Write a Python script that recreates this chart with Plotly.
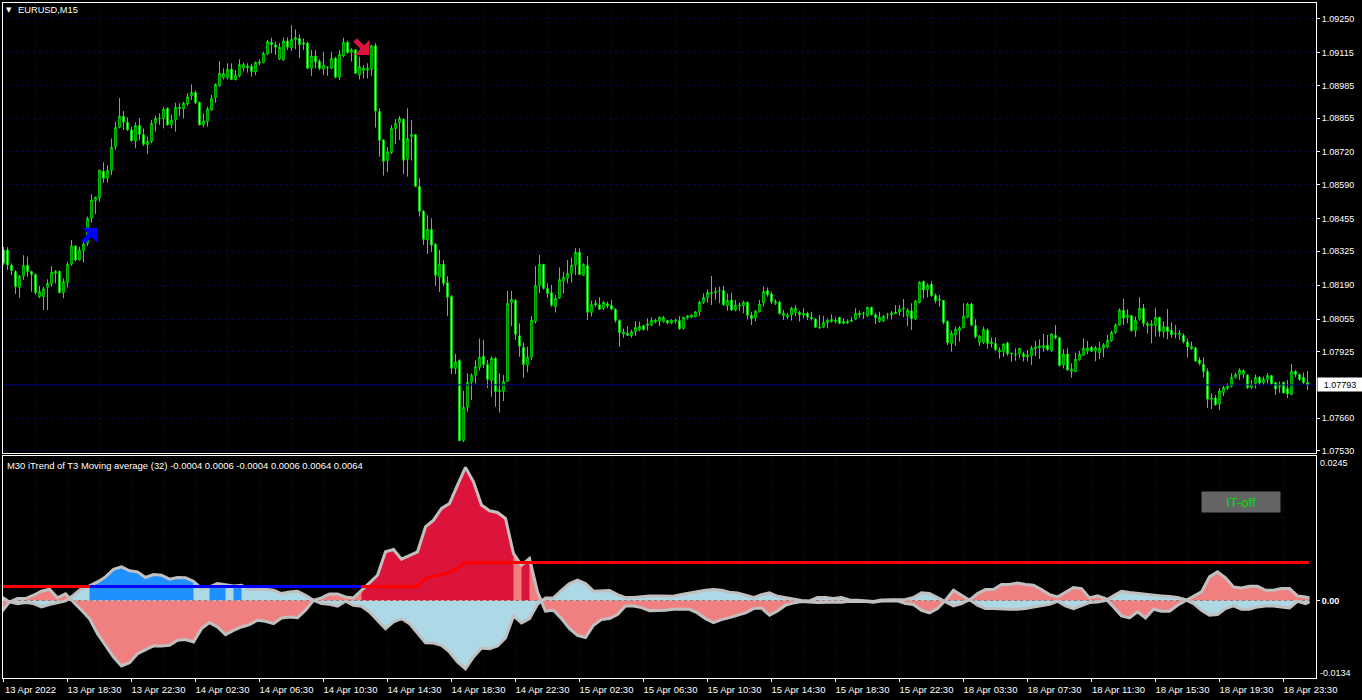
import plotly.graph_objects as go

# candle readings, in 1e-5 above 1.07000
high_pts = [
1343,1341,1277,1250,1230,1309,1303,1248,1237,1187,
1184,1213,1266,1250,1248,1217,1284,1370,1350,1343,
1367,1463,1552,1542,1648,1679,1668,1774,1839,1935,
1883,1858,1821,1838,1855,1814,1781,1847,1865,1874,
1898,1898,1867,1916,1914,1920,1954,1989,1964,1920,
1874,1900,1947,1993,2082,2053,2073,2073,2046,2089,
2076,2073,2070,2080,2089,2119,2166,2175,2159,2153,
2176,2176,2225,2208,2188,2172,2159,2126,2126,2089,
2119,2062,2119,2099,2126,2175,2163,2133,2129,2099,
2066,2073,2146,2153,1894,1770,1739,1827,1851,1863,
1854,1894,1847,1792,1615,1489,1468,1456,1357,1330,
1290,1226,1150,916,895,769,839,839,892,978,
972,892,908,903,839,832,1167,1167,1134,1038,
961,945,1067,1266,1310,1274,1197,1191,1151,1261,
1244,1290,1301,1337,1337,1277,1306,1128,1131,1142,
1127,1124,1131,1098,1054,1018,1027,1012,1047,1045,
1031,1058,1062,1057,1065,1067,1051,1054,1057,1067,
1064,1071,1074,1087,1128,1157,1173,1226,1181,1184,
1187,1157,1160,1131,1120,1128,1125,1084,1091,1131,
1185,1181,1164,1133,1128,1091,1080,1104,1111,1088,
1098,1084,1084,1058,1071,1067,1058,1074,1062,1064,
1058,1054,1064,1098,1088,1084,1104,1104,1080,1084,
1071,1080,1087,1111,1111,1135,1098,1118,1131,1206,
1208,1197,1206,1157,1151,1131,1049,1009,1025,1027,
1118,1120,1120,1054,991,1025,1018,982,982,942,
958,965,921,938,938,925,932,949,968,974,
996,992,998,1031,982,935,939,879,921,929,
978,968,948,948,965,959,992,1009,1038,1098,
1135,1094,1071,1065,1142,1115,1045,1051,1100,1062,
1045,1095,1042,1031,1012,998,978,965,945,903,
903,859,760,753,779,789,799,839,842,859,
855,836,813,835,828,826,839,832,806,806,
806,813,876,852,839,842,848]
body_top_pts = [
1330,1330,1269,1244,1226,1269,1269,1244,1232,1164,
1176,1197,1241,1245,1245,1204,1273,1347,1345,1330,
1354,1456,1529,1540,1648,1643,1647,1739,1818,1862,
1862,1838,1808,1826,1826,1790,1763,1834,1854,1855,
1890,1894,1847,1898,1898,1914,1940,1957,1957,1918,
1843,1891,1934,1989,2033,2033,2049,2050,2025,2068,
2069,2062,2061,2077,2078,2113,2160,2157,2146,2137,
2162,2162,2168,2175,2172,2155,2153,2102,2102,2081,
2066,2058,2093,2093,2109,2157,2157,2127,2127,2060,
2054,2053,2143,2143,1881,1768,1721,1814,1834,1854,
1850,1774,1790,1789,1583,1484,1412,1412,1353,1273,
1273,1201,1146,885,890,704,803,832,866,903,
907,874,899,899,773,807,1118,1134,1130,989,
943,903,1050,1189,1273,1273,1177,1160,1138,1213,
1221,1237,1269,1321,1321,1273,1268,1112,1118,1112,
1122,1116,1110,1094,1050,1004,998,1005,1022,1026,
1029,1036,1051,1051,1062,1062,1049,1051,1051,1049,
1062,1068,1071,1084,1123,1141,1161,1161,1165,1169,
1169,1129,1131,1110,1110,1122,1122,1070,1086,1115,
1165,1169,1155,1125,1122,1078,1071,1098,1098,1082,
1078,1078,1062,1055,1022,1042,1050,1054,1050,1062,
1045,1046,1051,1078,1079,1079,1102,1102,1072,1062,
1067,1072,1079,1083,1095,1098,1091,1088,1127,1202,
1205,1190,1194,1149,1133,1129,1046,999,1015,1021,
1067,1115,1115,1029,988,1015,1011,964,958,932,
956,960,919,916,938,917,912,939,944,948,
951,951,996,990,981,916,916,855,895,916,
939,940,943,941,940,952,970,1002,1031,1091,
1090,1071,1069,1050,1098,1098,1037,1035,1062,1062,
1024,1024,1010,998,998,990,964,947,940,892,
875,847,741,741,769,783,789,823,834,852,
850,832,795,823,823,815,831,830,802,794,
803,779,847,847,834,823,803]
body_bottom_pts = [
1277,1270,1248,1184,1181,1226,1244,1232,1160,1144,
1144,1181,1195,1237,1160,1160,1200,1273,1290,1290,
1327,1356,1456,1526,1536,1615,1615,1646,1741,1818,
1838,1809,1765,1763,1790,1751,1748,1761,1834,1853,
1853,1828,1828,1847,1893,1891,1911,1944,1916,1828,
1828,1841,1887,1936,1984,2016,2015,2008,2008,2023,
2054,2056,2040,2038,2073,2076,2110,2147,2137,2090,
2086,2137,2134,2168,2147,2149,2053,2052,2078,2052,
2049,2056,2053,2017,2017,2102,2115,2117,2033,2026,
2044,2045,2049,1883,1766,1683,1686,1717,1813,1837,
1687,1691,1781,1583,1484,1372,1370,1349,1229,1221,
1197,1142,859,858,571,571,704,802,831,863,
874,815,810,767,767,767,807,1120,994,947,
874,871,903,1045,1188,1177,1157,1110,1104,1138,
1205,1217,1237,1269,1232,1229,1082,1081,1111,1094,
1097,1107,1094,1050,1001,996,990,989,1005,1012,
1013,1029,1031,1043,1047,1045,1039,1039,1047,1017,
1017,1059,1062,1064,1084,1120,1140,1157,1160,1168,
1112,1108,1091,1091,1107,1108,1070,1056,1060,1084,
1120,1152,1124,1118,1076,1068,1063,1071,1080,1072,
1071,1063,1055,1022,1019,1022,1041,1045,1045,1038,
1038,1039,1046,1054,1071,1078,1067,1072,1060,1046,
1046,1071,1072,1076,1083,1094,1068,1056,1055,1120,
1171,1171,1148,1128,1129,1042,961,957,991,1009,
1021,1062,1030,985,961,961,958,957,933,925,
925,917,916,913,916,905,904,909,937,941,
941,933,929,980,870,872,852,846,846,892,
911,927,927,927,920,939,944,968,1001,1031,
1058,1062,1009,1009,1054,1037,1029,1029,1029,1006,
1005,1005,993,996,992,965,944,937,888,878,
846,736,736,714,717,762,779,787,823,834,
834,782,782,798,801,801,814,797,777,786,
761,757,754,834,814,802,793]
low_pts = [
1270,1250,1230,1155,1140,1211,1224,1164,1151,1138,
1091,1091,1184,1197,1158,1138,1181,1268,1284,1288,
1280,1346,1439,1473,1522,1598,1599,1628,1728,1814,
1808,1804,1761,1735,1768,1744,1712,1755,1801,1828,
1814,1824,1814,1801,1863,1854,1903,1927,1911,1826,
1818,1821,1883,1916,1980,2009,2009,2007,2005,2017,
2040,2036,2020,2026,2066,2073,2106,2113,2106,2086,
2084,2126,2122,2129,2093,2126,2050,2023,2053,2046,
2026,2023,2050,2013,2007,2097,2113,2080,2030,2009,
2013,2013,2023,1817,1701,1626,1640,1712,1752,1768,
1632,1622,1686,1582,1463,1350,1314,1323,1188,1163,
1187,1067,836,836,568,566,687,733,799,850,
860,781,746,706,683,729,805,1027,972,905,
822,843,892,1038,1159,1173,1139,1104,1081,1136,
1158,1197,1200,1230,1230,1227,1051,1065,1104,1091,
1091,1098,1091,1041,945,981,988,981,988,1006,
1009,1009,1027,1038,1027,1041,1035,1035,1038,1012,
1014,1054,1059,1062,1067,1115,1120,1111,1131,1118,
1107,1088,1088,1086,1088,1078,1054,1031,1047,1082,
1104,1144,1115,1111,1075,1051,1054,1049,1067,1045,
1058,1051,1049,1019,1018,1019,1018,1041,1038,1035,
1035,1035,1043,1051,1060,1055,1064,1070,1035,1041,
1045,1054,1054,1075,1068,1062,1027,1011,1051,1118,
1137,1141,1144,1118,1104,1034,952,925,948,965,
1018,1058,1027,978,948,956,937,942,929,897,
905,909,885,889,899,886,886,872,908,896,
925,929,925,974,866,859,850,822,844,890,
908,916,924,887,895,903,939,965,996,1029,
1031,1038,1005,985,1049,1025,998,959,985,985,
982,974,981,978,972,958,903,932,886,871,
823,701,697,710,693,749,773,783,818,813,
819,777,777,779,794,793,798,794,753,762,
760,740,753,823,810,797,773]
candle_direction = (
"DDDDUUDDDU" "UUUUDUUUDU" "UUUUUDUUUU" "DDDUDDUUUU" "UDUUDUUUDD" "UUUUUUUDUU"
"UDDUUUUDDU" "UDUUDDDUDD" "UUUDUUDUDU" "UUUDDDUUUU" "DUUDDDUDDU" "DDDUDUUUUU"
"DDUDUUUUDD" "DUUUUDDDUU" "UUUUDUDUUD" "UDDDDUDUUU" "DUUUUUDUUD" "UUUUUUUDUD"
"DUDUUUDDUU" "UDDUDUUUUD" "UDUDUUUUUD" "DUUUUUUDDU" "UUUUUUUDUU" "DUDDUDDUUU"
"UUDDUUDUDU" "UDUUUDUUUU" "UDUDDUDUUU" "UUDUUUUUUU" "DUDUUDUUUD" "UDDUUDDUDD"
"DDUDUUUUUU" "UDUUDUUDDU" "DDUDDDD")

# iTrend series per M30 bar, in thousandths
itrend_a = [
0.65,-0.24,-0.54,-0.36,-0.54,-1.13,-0.71,-0.36,-0.06,0.95,
2.14,2.62,3.33,4.22,5.59,6.01,5.30,5.12,4.11,4.64,
4.52,3.81,4.11,4.05,3.45,2.14,2.44,3.03,2.86,2.62,
2.74,2.02,2.02,2.02,1.84,1.25,1.55,1.67,0.95,0.06,
-0.54,-0.65,-1.01,-0.12,-0.83,-1.01,-2.02,-3.51,-5.00,-3.81,
-3.21,-4.11,-5.89,-7.50,-7.56,-7.97,-9.16,-10.95,-12.14,-10.06,
-8.45,-8.57,-8.09,-6.66,-2.74,-3.99,-3.21,-0.65,0.48,0.48,
1.84,3.03,3.63,3.03,1.67,1.67,1.79,1.07,0.54,0.54,
0.71,0.83,0.83,0.83,0.77,1.07,1.37,1.55,1.84,1.96,
1.84,1.49,1.37,0.95,0.54,1.07,1.37,0.77,0.54,0.36,
0,-0.06,0.54,0.54,0.36,0.54,0.12,0.06,0,-0.18,
0.12,0.12,0.18,0.18,0.54,1.37,1.25,0.54,-0.24,-0.95,
-0.54,0.18,-0.83,-1.43,-1.43,-1.55,-1.55,-1.55,-1.43,-1.13,
-0.95,-0.65,-0.12,-0.95,-1.43,-0.83,-0.36,-0.24,0,0.83,
1.67,1.43,1.25,1.07,0.95,0.83,0.71,0.54,0.18,-0.54,
-1.73,-2.62,-2.50,-1.43,-0.95,-1.55,-1.55,-1.13,-0.95,-0.95,
-1.13,-1.31,-0.12,-0.54,-0.24]
itrend_b = [
-2.02,-0.24,0.36,0.36,0.95,1.67,2.02,0.48,1.19,-0.36,
-1.73,-3.21,-5.89,-7.97,-10.06,-11.66,-11.07,-9.46,-8.75,-8.09,
-8.09,-7.97,-7.08,-6.96,-7.38,-5.00,-3.93,-4.70,-6.07,-5.30,
-4.70,-4.28,-3.51,-3.69,-4.11,-3.09,-2.92,-3.03,-1.73,0.06,
0.48,1.19,1.19,0.65,0.48,1.84,3.03,4.52,8.69,9.10,
7.38,7.97,8.69,13.15,14.34,16.42,17.31,20.59,23.74,21.18,
17.02,16.01,15.71,14.64,8.39,6.31,7.50,1.55,-1.90,-1.73,
-3.21,-5.00,-6.19,-6.60,-4.40,-3.39,-3.21,-2.50,-0.95,-0.95,
-1.25,-1.79,-1.79,-1.73,-1.55,-1.55,-1.55,-2.20,-3.21,-3.93,
-3.39,-3.03,-2.62,-2.20,-1.43,-1.31,-2.62,-1.84,-0.83,-0.42,
-0.18,-0.30,-0.36,-0.30,-0.30,-0.30,-0.12,-0.12,-0.18,-0.30,
-0.06,-0.06,-0.06,-0.54,-0.71,-1.73,-2.20,-1.43,0.06,1.84,
0.95,0.06,1.25,1.96,1.96,2.86,2.86,3.15,2.86,2.74,
1.96,1.07,0.65,1.55,2.32,2.14,0.48,0.83,0.36,-1.13,
-2.74,-3.09,-2.02,-3.09,-1.55,-1.90,-1.90,-0.83,-0.06,0.65,
1.55,4.22,5.12,4.05,2.44,2.26,2.56,2.56,1.84,1.84,
2.14,2.14,0.83,0.65,0.48]
signal_line = [
2.5,2.5,2.5,2.5,2.5,2.5,2.5,2.5,2.5,2.5,2.5,2.5,2.5,2.5,2.5,2.5,2.5,2.5,2.5,2.5,
2.5,2.5,2.5,2.5,2.5,2.5,2.5,2.5,2.5,2.5,2.5,2.5,2.5,2.5,2.5,2.5,2.5,2.5,2.5,2.5,
2.5,2.5,2.5,2.5,2.5,2.5,2.5,2.5,2.5,2.5,2.5,2.5,2.5,3.93,4.40,4.64,4.94,5.83,6.78,6.78,
6.78,6.78,6.78,6.78,6.78,6.78,6.78,6.78,6.78,6.78,6.78,6.78,6.78,6.78,6.78,6.78,6.78,6.78,6.78,6.78,
6.78,6.78,6.78,6.78,6.78,6.78,6.78,6.78,6.78,6.78,6.78,6.78,6.78,6.78,6.78,6.78,6.78,6.78,6.78,6.78,
6.78,6.78,6.78,6.78,6.78,6.78,6.78,6.78,6.78,6.78,6.78,6.78,6.78,6.78,6.78,6.78,6.78,6.78,6.78,6.78,
6.78,6.78,6.78,6.78,6.78,6.78,6.78,6.78,6.78,6.78,6.78,6.78,6.78,6.78,6.78,6.78,6.78,6.78,6.78,6.78,
6.78,6.78,6.78,6.78,6.78,6.78,6.78,6.78,6.78,6.78,6.78,6.78,6.78,6.78,6.78,6.78,6.78,6.78,6.78,6.78,
6.78,6.78,6.78,6.78,6.78]

time_labels = ["13 Apr 2022","13 Apr 18:30","13 Apr 22:30","14 Apr 02:30","14 Apr 06:30","14 Apr 10:30",
"14 Apr 14:30","14 Apr 18:30","14 Apr 22:30","15 Apr 02:30","15 Apr 06:30","15 Apr 10:30","15 Apr 14:30",
"15 Apr 18:30","15 Apr 22:30","18 Apr 03:30","18 Apr 07:30","18 Apr 11:30","18 Apr 15:30","18 Apr 19:30","18 Apr 23:30"]
price_ticks = [1.0925,1.09115,1.08985,1.08855,1.0872,1.0859,1.08455,1.08325,1.0819,1.08055,1.07925,1.0766,1.0753]
last_price = 1.07793
buy_head = (22.25, 1.08398)
buy_stem = (21.4, 1.08386)
sell_head = (90.25, 1.09126)
sell_stem = (89.4, 1.09142)

assert len(high_pts)==len(low_pts)==len(body_top_pts)==len(body_bottom_pts)==len(candle_direction)==327
assert len(itrend_a)==len(itrend_b)==len(signal_line)==165

conv = lambda v: 1.07 + v/100000
opens = [conv(t if d=="D" else b) for t,b,d in zip(body_top_pts,body_bottom_pts,candle_direction)]
closes = [conv(b if d=="D" else t) for t,b,d in zip(body_top_pts,body_bottom_pts,candle_direction)]
highs = [conv(v) for v in high_pts]
lows = [conv(v) for v in low_pts]
bars = list(range(327))
m30_x = [min(2*j-0.5, 326.5) for j in range(165)]
A = [v/1000 for v in itrend_a]
B = [v/1000 for v in itrend_b]
S = [v/1000 for v in signal_line]

FONT = "Liberation Sans"
GRID = "#000070"
fig = go.Figure()

def area(vals, color, j0=0, j1=164):
    fig.add_trace(go.Scatter(x=m30_x[j0:j1+1], y=vals[j0:j1+1], xaxis="x2", yaxis="y2", mode="none",
                             fill="tozeroy", fillcolor=color, showlegend=False, hoverinfo="skip"))
area(A, "#ADD8E6")
for j0, j1 in [(11,24),(26,28),(29,30)]:
    area(A, "#1E90FF", j0, j1)
area(B, "#F08080")
for j0, j1 in [(45,64),(65,66)]:
    area(B, "#DC143C", j0, j1)
for vals in (A, B):
    fig.add_trace(go.Scatter(x=m30_x, y=vals, xaxis="x2", yaxis="y2", mode="lines",
                             line=dict(color="#C0C0C0", width=3), showlegend=False, hoverinfo="skip"))
for j0, j1, col in [(0,11,"#FF0000"),(11,45,"#0000FF"),(45,164,"#FF0000")]:
    fig.add_trace(go.Scatter(x=m30_x[j0:j1+1], y=S[j0:j1+1], xaxis="x2", yaxis="y2", mode="lines",
                             line=dict(color=col, width=3), showlegend=False, hoverinfo="skip"))

fig.add_trace(go.Candlestick(x=bars, open=opens, high=highs, low=lows, close=closes, xaxis="x", yaxis="y",
    increasing=dict(line=dict(color="#00FF00", width=1), fillcolor="#000000"),
    decreasing=dict(line=dict(color="#00FF00", width=1), fillcolor="#FFFFFF"),
    whiskerwidth=0, showlegend=False, hoverinfo="skip"))

def arrow_mark(pt, symbol, size, color, width=0):
    fig.add_trace(go.Scatter(x=[pt[0]], y=[pt[1]], xaxis="x", yaxis="y", mode="markers", showlegend=False, hoverinfo="skip",
                             marker=dict(symbol=symbol, size=size, color=color, line=dict(color=color, width=width))))
arrow_mark(buy_head, "triangle-ne", 17, "#0000FF")
arrow_mark(buy_stem, "line-ne", 12, "#0000FF", 5)
arrow_mark(sell_head, "triangle-se", 17, "#DC143C")
arrow_mark(sell_stem, "line-nw", 12, "#DC143C", 5)

xr = [-0.125, 328.125]
xcommon = dict(range=xr, domain=[3/1362, 1316/1362], showline=True, linecolor="#FFFFFF", linewidth=1, mirror=True,
               tick0=0, dtick=16, showgrid=False, zeroline=False,
               minor=dict(tick0=0, dtick=8, showgrid=True, gridcolor=GRID, griddash="3px,3px", gridwidth=1))
fig.update_layout(
    width=1362, height=700, autosize=False, margin=dict(l=0, r=0, t=0, b=0, autoexpand=False),
    paper_bgcolor="#000000", plot_bgcolor="#000000", showlegend=False, boxgap=0.5,
    font=dict(family=FONT, size=10, color="#FFFFFF"),
    xaxis=dict(**xcommon, anchor="y", showticklabels=False, rangeslider=dict(visible=False), ticks=""),
    xaxis2=dict(**xcommon, anchor="y2", tickmode="array", tickvals=[16*k for k in range(len(time_labels))],
                ticktext=time_labels, ticks="outside", ticklen=3, tickcolor="#FFFFFF", ticklabelshift=27,
                tickfont=dict(family=FONT, size=9.5, color="#FFFFFF")),
    yaxis=dict(domain=[1-453/700, 1-3/700], range=[1.07522, 1.09313], side="right", anchor="x", showline=True,
               linecolor="#FFFFFF", linewidth=1, mirror=True, tickmode="array", tickvals=price_ticks,
               tickformat=".5f", ticks="outside", ticklen=3, tickcolor="#FFFFFF", showgrid=True, gridcolor=GRID,
               griddash="3px,3px", zeroline=False, tickfont=dict(family=FONT, size=9, color="#FFFFFF")),
    yaxis2=dict(domain=[1-678/700, 1-456/700], range=[-0.0138, 0.02577], side="right", anchor="x2", showline=True,
                linecolor="#FFFFFF", linewidth=1, mirror=True, tickmode="array", tickvals=[0],
                ticktext=["<b>0.00</b>"], ticks="outside", ticklen=3, tickcolor="#FFFFFF", showgrid=False, zeroline=False,
                tickfont=dict(family=FONT, size=9, color="#FFFFFF")),
    shapes=[
        dict(type="line", xref="x", yref="y", x0=xr[0], x1=xr[1], y0=last_price, y1=last_price,
             line=dict(color="#000080", width=1), layer="above"),
        dict(type="line", xref="x2", yref="y2", x0=xr[0], x1=326.5, y0=0, y1=0,
             line=dict(color="#C0C0C0", width=1, dash="3px,3px"), layer="above"),
    ],
    annotations=[
        dict(xref="paper", yref="paper", x=16/1362, y=1-10/700, text="EURUSD,M15", showarrow=False, xanchor="left",
             yanchor="middle", font=dict(family=FONT, size=9.3, color="#FFFFFF")),
        dict(xref="paper", yref="paper", x=4/1362, y=1-10/700, text="▼", showarrow=False, xanchor="left",
             yanchor="middle", font=dict(family="DejaVu Sans", size=7, color="#FFFFFF")),
        dict(xref="paper", yref="paper", x=5/1362, y=1-465/700,
             text="M30 iTrend of T3 Moving average (32) -0.0004 0.0006 -0.0004 0.0006 0.0064 0.0064",
             showarrow=False, xanchor="left", yanchor="middle", font=dict(family=FONT, size=9.45, color="#FFFFFF")),
        dict(xref="paper", yref="paper", x=1241/1362, y=1-502/700, text="IT-off", showarrow=False, width=78, height=20,
             xanchor="center", yanchor="middle", bgcolor="#646464", font=dict(family=FONT, size=13, color="#00E000"), borderpad=0),
        dict(xref="paper", yref="y", x=1317/1362, y=last_price, text="1.07793", showarrow=False, xanchor="left",
             yanchor="middle", width=42, height=11, bgcolor="#FFFFFF", font=dict(family=FONT, size=9, color="#000000")),
        dict(xref="paper", yref="y2", x=1318/1362, y=-0.0134, yshift=3, text="-0.0134", showarrow=False, xanchor="left",
             yanchor="middle", font=dict(family=FONT, size=9, color="#FFFFFF")),
        dict(xref="paper", yref="y2", x=1318/1362, y=0.0245, text="0.0245", showarrow=False, xanchor="left",
             yanchor="middle", font=dict(family=FONT, size=9, color="#FFFFFF")),
    ],
)
fig.write_html("out.html", default_width="1362px", default_height="700px", config={"displayModeBar": False},
               post_script="document.documentElement.style.overflow='hidden';document.body.style.margin='0';document.body.style.overflow='hidden';document.body.style.background='#000';")
